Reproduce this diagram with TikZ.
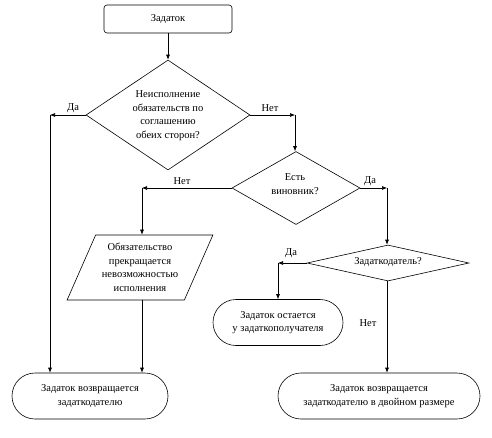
\documentclass[tikz,border=0pt]{standalone}
\usepackage{fontspec}
\setmainfont{Liberation Serif}
\usetikzlibrary{shapes.geometric,arrows.meta}
\begin{document}
\begin{tikzpicture}[x=1pt,y=-1pt,
  font=\rmfamily\fontsize{10.5}{13.5}\selectfont,
  line width=0.6pt,
  arr/.style={-{Latex[length=5pt,width=4pt]}},
  dia/.style={draw, diamond, inner sep=0pt},
  txt/.style={align=center, inner sep=0pt},
  startbox/.style={draw, rounded corners=3pt, minimum width=128pt, minimum height=28pt, inner sep=0pt},
  oval/.style={draw, rounded corners=23pt, minimum height=46pt, inner sep=0pt, align=center},
  para/.style={draw, trapezium, trapezium left angle=63, trapezium right angle=117,
    trapezium stretches=true, minimum width=146pt, minimum height=65pt, inner sep=0pt, align=center},
  lab/.style={inner sep=0pt}
]
\useasboundingbox (0,0) rectangle (492,437);

% nodes
\node[startbox] (start) at (168,19) {Задаток};
\node[dia, minimum width=164pt, minimum height=110pt] (d1) at (168,115) {};
\node[txt] (d1t) at (168,115.5) {Неисполнение\\обязательств по\\соглашению\\обеих сторон?};
\node[dia, minimum width=128pt, minimum height=73pt] (d2) at (296,188) {};
\node[txt] (d2t) at (295,184) {Есть\\виновник?};
\node[dia, minimum width=162pt, minimum height=36pt] (d3) at (388,263) {};
\node[txt] (d3t) at (388,262.5) {Задаткодатель?};
\node[para] (pr) at (140,267.5) {Обязательство\\прекращается\\невозможностью\\исполнения};
\node[oval, minimum width=156pt] (o1) at (90,396) {Задаток возвращается\\задаткодателю};
\node[oval, minimum width=130pt] (o2) at (278,322.5) {Задаток остается\\у задаткополучателя};
\node[oval, minimum width=202pt] (o3) at (379,396) {Задаток возвращается\\задаткодателю в двойном размере};

% corner coordinates
\coordinate (c1) at (50,115);
\coordinate (c2) at (295,115);
\coordinate (c3) at (142,188);
\coordinate (c4) at (387,188);
\coordinate (c5) at (278,263);

% connectors
\draw[arr] (start) -- (d1.north);
\draw[arr] (d1.west) -- (c1);
\draw[arr] (c1) -- (c1 |- o1.north);
\draw[arr] (d1.east) -- (c2);
\draw[arr] (c2) -- (c2 |- d2.north);
\draw[arr] (d2.west) -- (c3);
\draw[arr] (c3) -- (c3 |- pr.north);
\draw[arr] (c3 |- pr.south) -- (c3 |- o1.north);
\draw[arr] (d2.east) -- (c4);
\draw[arr] (c4) -- (c4 |- d3.north);
\draw[arr] (d3.west) -- (c5);
\draw[arr] (c5) -- (c5 |- o2.north);
\draw[arr] (c4 |- d3.south) -- (c4 |- o3.north);

% labels
\node[lab] (l1) at (73,108) {Да};
\node[lab] (l2) at (270,108) {Нет};
\node[lab] (l3) at (182,181) {Нет};
\node[lab] (l4) at (370,181) {Да};
\node[lab] (l5) at (291,253) {Да};
\node[lab] (l6) at (368,323) {Нет};
\end{tikzpicture}
\end{document}
